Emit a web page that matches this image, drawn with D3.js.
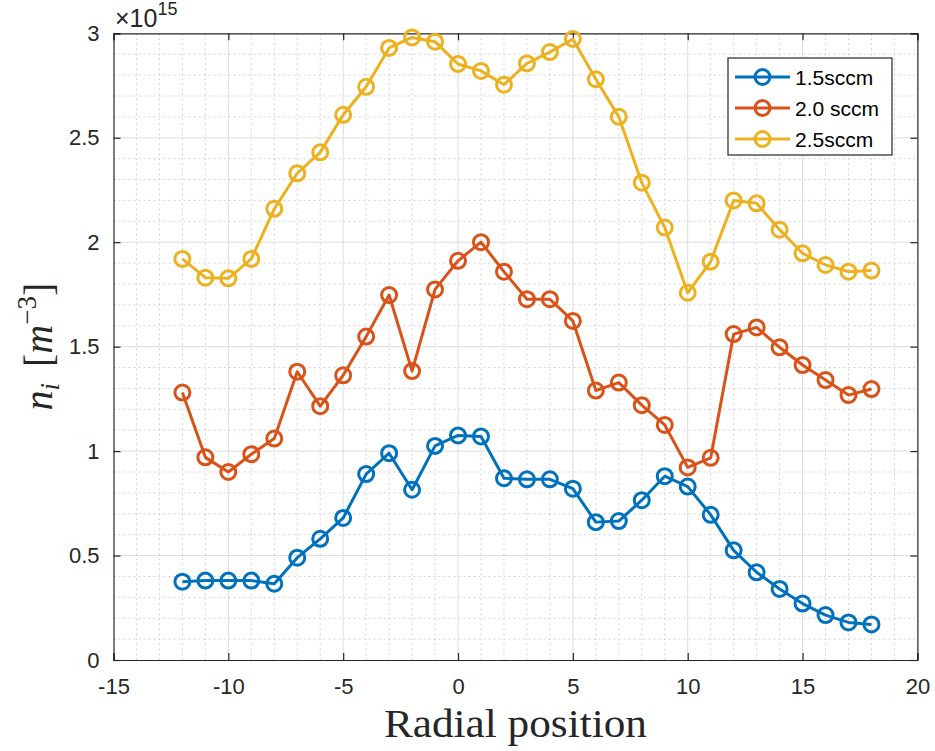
<!DOCTYPE html>
<html>
<head>
<meta charset="utf-8">
<script src="https://cdn.jsdelivr.net/npm/d3@7"></script>
<style>
  html, body { margin: 0; padding: 0; background: #ffffff; }
  svg { display: block; }
</style>
</head>
<body>
<svg id="chart" width="935" height="751"></svg>
<script>
// Radial position of each probe point
const positions = [-12, -11, -10, -9, -8, -7, -6, -5, -4, -3, -2, -1, 0, 1, 2, 3, 4, 5, 6, 7, 8, 9, 10, 11, 12, 13, 14, 15, 16, 17, 18];

// Ion density, in units of 1e15 m^-3
const flow15 = [0.375, 0.38, 0.38, 0.38, 0.365, 0.49, 0.58, 0.68, 0.89, 0.99, 0.815, 1.025, 1.075, 1.07, 0.87, 0.865, 0.865, 0.82, 0.66, 0.665, 0.765, 0.88, 0.83, 0.695, 0.525, 0.42, 0.34, 0.27, 0.215, 0.18, 0.17];
const flow20 = [1.28, 0.97, 0.9, 0.985, 1.06, 1.38, 1.215, 1.363, 1.548, 1.747, 1.383, 1.774, 1.911, 2.0, 1.859, 1.727, 1.727, 1.623, 1.29, 1.328, 1.22, 1.125, 0.922, 0.968, 1.56, 1.592, 1.497, 1.412, 1.34, 1.268, 1.297];
const flow25 = [1.92, 1.83, 1.827, 1.92, 2.16, 2.33, 2.43, 2.61, 2.744, 2.93, 2.98, 2.96, 2.853, 2.82, 2.754, 2.856, 2.91, 2.973, 2.78, 2.60, 2.285, 2.07, 1.758, 1.907, 2.20, 2.186, 2.06, 1.947, 1.891, 1.859, 1.864];

const seriesNames = ["1.5sccm", "2.0 sccm", "2.5sccm"];
const seriesColors = ["#0072BD", "#D95319", "#EDB120"];

const xTicks = [-15, -10, -5, 0, 5, 10, 15, 20];
const xTickLabels = ["-15", "-10", "-5", "0", "5", "10", "15", "20"];
const yTicks = [0, 0.5, 1, 1.5, 2, 2.5, 3];
const yTickLabels = ["0", "0.5", "1", "1.5", "2", "2.5", "3"];
const xMinor = [-14, -13, -12, -11, -9, -8, -7, -6, -4, -3, -2, -1, 1, 2, 3, 4, 6, 7, 8, 9, 11, 12, 13, 14, 16, 17, 18, 19];
const yMinor = [0.1, 0.2, 0.3, 0.4, 0.6, 0.7, 0.8, 0.9, 1.1, 1.2, 1.3, 1.4, 1.6, 1.7, 1.8, 1.9, 2.1, 2.2, 2.3, 2.4, 2.6, 2.7, 2.8, 2.9];

const series = [flow15, flow20, flow25].map((vals, i) => ({
  name: seriesNames[i],
  color: seriesColors[i],
  points: positions.map((p, j) => ({ x: p, y: vals[j] }))
}));

const svg = d3.select("#chart");
const plot = { left: 113.5, right: 917.4, top: 33.3, bottom: 660 };

const x = d3.scaleLinear().domain([-15, 20]).range([plot.left, plot.right]);
const y = d3.scaleLinear().domain([0, 3]).range([plot.bottom, plot.top]);

const axisColor = "#262626";
const tickFont = "'Liberation Sans', Arial, Helvetica, sans-serif";
const serif = "'Liberation Serif', 'DejaVu Serif', serif";
const lineW = 3;
const markerR = 7.5;

// Minor grid (dotted)
const grid = svg.append("g");
grid.selectAll(".xminor").data(xMinor).join("line")
  .attr("x1", d => x(d)).attr("x2", d => x(d))
  .attr("y1", plot.top).attr("y2", plot.bottom)
  .attr("stroke", "#d2d2d2").attr("stroke-width", 1).attr("stroke-dasharray", "2,3");
grid.selectAll(".yminor").data(yMinor).join("line")
  .attr("y1", d => y(d)).attr("y2", d => y(d))
  .attr("x1", plot.left).attr("x2", plot.right)
  .attr("stroke", "#d2d2d2").attr("stroke-width", 1).attr("stroke-dasharray", "2,3");

// Major grid (solid)
grid.selectAll(".xmajor").data(xTicks.slice(1, -1)).join("line")
  .attr("x1", d => x(d)).attr("x2", d => x(d))
  .attr("y1", plot.top).attr("y2", plot.bottom)
  .attr("stroke", "#dcdcdc").attr("stroke-width", 1);
grid.selectAll(".ymajor").data(yTicks.slice(1, -1)).join("line")
  .attr("y1", d => y(d)).attr("y2", d => y(d))
  .attr("x1", plot.left).attr("x2", plot.right)
  .attr("stroke", "#dcdcdc").attr("stroke-width", 1);

// Axes with inward ticks on all four sides
const tickLen = 7;
const xAxisB = d3.axisBottom(x).tickValues(xTicks).tickSize(-tickLen).tickPadding(18).tickFormat((d, i) => xTickLabels[i]);
const xAxisT = d3.axisTop(x).tickValues(xTicks).tickSize(-tickLen).tickFormat("");
const yAxisL = d3.axisLeft(y).tickValues(yTicks).tickSize(-tickLen).tickPadding(14).tickFormat((d, i) => yTickLabels[i]);
const yAxisR = d3.axisRight(y).tickValues(yTicks).tickSize(-tickLen).tickFormat("");

function styleAxis(g) {
  g.selectAll("path").attr("stroke", axisColor).attr("stroke-width", 1.2);
  g.selectAll("line").attr("stroke", axisColor).attr("stroke-width", 1.2);
  g.selectAll("text").attr("fill", axisColor).attr("font-family", tickFont).attr("font-size", 22);
}

svg.append("g").attr("transform", `translate(0,${plot.bottom})`).call(xAxisB).call(styleAxis)
  .call(g => g.selectAll("text").attr("dy", "0.71em"));
svg.append("g").attr("transform", `translate(0,${plot.top})`).call(xAxisT).call(styleAxis);
svg.append("g").attr("transform", `translate(${plot.left},0)`).call(yAxisL).call(styleAxis);
svg.append("g").attr("transform", `translate(${plot.right},0)`).call(yAxisR).call(styleAxis);

// Series lines and open circle markers
const line = d3.line().x(d => x(d.x)).y(d => y(d.y));
const sg = svg.append("g");
series.forEach(s => {
  sg.append("path").datum(s.points)
    .attr("d", line).attr("fill", "none")
    .attr("stroke", s.color).attr("stroke-width", lineW).attr("stroke-linejoin", "round");
  sg.append("g").selectAll("circle").data(s.points).join("circle")
    .attr("cx", d => x(d.x)).attr("cy", d => y(d.y)).attr("r", markerR)
    .attr("fill", "none").attr("stroke", s.color).attr("stroke-width", lineW);
});

// Exponent label above the y axis
const expo = svg.append("text")
  .attr("x", 115).attr("y", 27)
  .attr("font-family", tickFont).attr("fill", axisColor).attr("font-size", 25);
expo.append("tspan").text("\u00d710");
expo.append("tspan").attr("font-size", 18).attr("dy", -12).text("15");

// Legend
const lg = svg.append("g");
lg.append("rect").attr("x", 728).attr("y", 58).attr("width", 164).attr("height", 97)
  .attr("fill", "#ffffff").attr("stroke", axisColor).attr("stroke-width", 1.2);
const rowY = [77, 108, 139];
series.forEach((s, i) => {
  lg.append("line").attr("x1", 735).attr("x2", 790).attr("y1", rowY[i]).attr("y2", rowY[i])
    .attr("stroke", s.color).attr("stroke-width", lineW);
  lg.append("circle").attr("cx", 762.5).attr("cy", rowY[i]).attr("r", markerR)
    .attr("fill", "none").attr("stroke", s.color).attr("stroke-width", lineW);
  lg.append("text").attr("x", 795).attr("y", rowY[i]).attr("dy", "0.36em")
    .attr("font-family", tickFont).attr("font-size", 21).attr("fill", "#000000")
    .text(s.name);
});

// X axis title
svg.append("text")
  .attr("x", (plot.left + plot.right) / 2).attr("y", 737)
  .attr("text-anchor", "middle")
  .attr("font-family", serif).attr("font-size", 40).attr("fill", axisColor)
  .attr("textLength", 263).attr("lengthAdjust", "spacingAndGlyphs")
  .text("Radial position");

// Y axis title: n_i [m^-3]
const yl = svg.append("text")
  .attr("transform", `translate(52,${(plot.top + plot.bottom) / 2}) rotate(-90)`)
  .attr("text-anchor", "middle")
  .attr("font-family", serif).attr("font-size", 40).attr("fill", axisColor);
yl.append("tspan").attr("font-style", "italic").text("n");
yl.append("tspan").attr("font-style", "italic").attr("font-size", 27).attr("dy", 7).text("i");
yl.append("tspan").attr("dy", -7).text("\u2009\u2009[");
yl.append("tspan").attr("font-style", "italic").text("m");
yl.append("tspan").attr("font-size", 27).attr("dy", -16).text("\u22123");
yl.append("tspan").attr("dy", 16).text("]");
</script>
</body>
</html>
